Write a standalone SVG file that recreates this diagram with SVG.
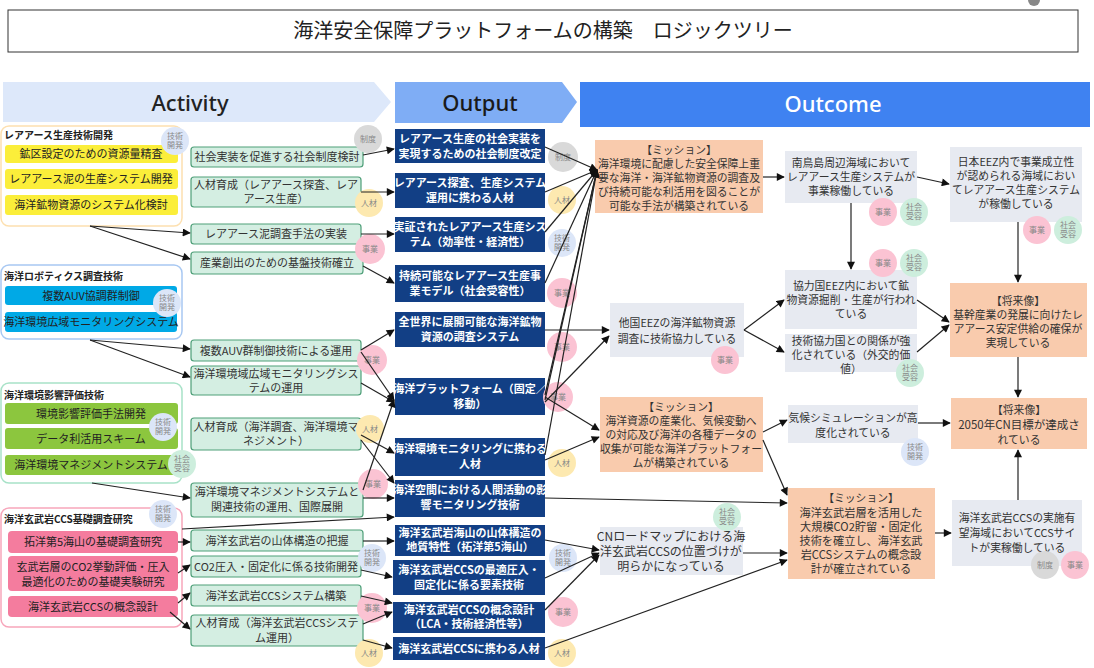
<svg xmlns="http://www.w3.org/2000/svg" width="1094" height="668" viewBox="0 0 1094 668">
<defs>
<style>
text{font-family:"Noto Sans CJK JP","Noto Sans",sans-serif;text-anchor:middle;}
.gt{font-size:10px;font-weight:bold;text-anchor:start;fill:#222;}
.it{font-size:11px;fill:#222;}
.act rect{fill:#d4eee2;stroke:#4e9f78;stroke-width:1.2;}
.act text{font-size:11px;fill:#333;}
.out rect{fill:#123f85;}
.out text{font-size:11px;fill:#fff;font-weight:bold;}
.ms rect{fill:#f9cbad;}
.oc rect{fill:#e7eaf1;}
.ms text,.oc text{font-size:10.8px;fill:#333;}
.bd text{font-size:8px;fill:#888;}
.sei{fill:#d9d9d9;}
.jin{fill:#fde9b0;}
.jig{fill:#fbc3d3;}
.gij{fill:#dce6f8;}
.sha{fill:#cdeedd;}
#conn line{stroke:#222;stroke-width:1.2;marker-end:url(#ah);}
</style>
<marker id="ah" viewBox="0 0 10 10" refX="9" refY="5" markerWidth="9" markerHeight="8" orient="auto" markerUnits="userSpaceOnUse"><path d="M0,0 L10,5 L0,10 z" fill="#111"/></marker>
</defs>
<rect width="1094" height="668" fill="#fff"/>
<circle cx="1034" cy="0" r="6" fill="#888"/>
<g id="title">
<rect x="8" y="10" width="1070" height="42" fill="#fff" stroke="#333" stroke-width="1"/>
<text x="543" y="38" style="font-size:20px;fill:#222;">海洋安全保障プラットフォームの構築　ロジックツリー</text>
</g>
<g id="banners">
<polygon points="3,82 374,82 391,102 374,122 3,122" fill="#dde8fa"/>
<text x="190" y="111" style="font-family:'Noto Sans',sans-serif;font-size:22px;font-weight:500;fill:#222;">Activity</text>
<polygon points="395,82 562,82 577,102 562,123 395,123" fill="#7fadf5"/>
<text x="480" y="111" style="font-family:'Noto Sans',sans-serif;font-size:22px;font-weight:500;fill:#1a1a1a;">Output</text>
<rect x="580" y="82" width="510" height="45" fill="#3f82f1"/>
<text x="833" y="112" style="font-family:'Noto Sans',sans-serif;font-size:22px;font-weight:500;fill:#fff;">Outcome</text>
</g>

<g id="group-rare">
<rect x="1" y="126" width="181" height="100" rx="8" fill="#fff" stroke="#fde0b0" stroke-width="1.5"/>
<text class="gt" x="4" y="139">レアアース生産技術開発</text>
<rect x="5" y="145" width="173" height="18" rx="3" fill="#fbee3a"/>
<text class="it" x="91" y="158">鉱区設定のための資源量精査</text>
<rect x="5" y="169" width="173" height="20" rx="3" fill="#fbee3a"/>
<text class="it" x="91" y="183">レアアース泥の生産システム開発</text>
<rect x="5" y="195" width="173" height="20" rx="3" fill="#fbee3a"/>
<text class="it" x="91" y="209">海洋鉱物資源のシステム化検討</text>
</g>
<g id="group-robotics">
<rect x="1" y="265" width="181" height="74" rx="8" fill="#fff" stroke="#a8c8f2" stroke-width="1.5"/>
<text class="gt" x="4" y="280">海洋ロボティクス調査技術</text>
<rect x="5" y="286" width="172" height="19" rx="3" fill="#00a9e6"/>
<text class="it" x="91" y="300">複数AUV協調群制御</text>
<rect x="5" y="312" width="172" height="20" rx="3" fill="#00a9e6"/>
<text class="it" x="91" y="326">海洋環境広域モニタリングシステム</text>
</g>
<g id="group-env">
<rect x="1" y="383" width="181" height="100" rx="8" fill="#fff" stroke="#a8e2c8" stroke-width="1.5"/>
<text class="gt" x="4" y="399">海洋環境影響評価技術</text>
<rect x="5" y="403" width="173" height="21" rx="3" fill="#8cc63e"/>
<text class="it" x="91" y="418">環境影響評価手法開発</text>
<rect x="5" y="428" width="173" height="21" rx="3" fill="#8cc63e"/>
<text class="it" x="91" y="443">データ利活用スキーム</text>
<rect x="5" y="455" width="173" height="20" rx="3" fill="#8cc63e"/>
<text class="it" x="91" y="469">海洋環境マネジメントシステム</text>
</g>
<g id="group-ccs">
<rect x="1" y="508" width="181" height="119" rx="8" fill="#fff" stroke="#f7a6bb" stroke-width="1.5"/>
<text class="gt" x="4" y="523">海洋玄武岩CCS基礎調査研究</text>
<rect x="8" y="531" width="170" height="22" rx="4" fill="#f47c9e"/>
<text class="it" x="93" y="546">拓洋第5海山の基礎調査研究</text>
<rect x="8" y="556" width="170" height="35" rx="4" fill="#f47c9e"/>
<text class="it" x="93" y="571">玄武岩層のCO2挙動評価・圧入</text>
<text class="it" x="93" y="586">最適化のための基礎実験研究</text>
<rect x="8" y="596" width="170" height="21" rx="4" fill="#f47c9e"/>
<text class="it" x="93" y="611">海洋玄武岩CCSの概念設計</text>
</g>

<g id="A1" class="act"><rect x="191" y="147" width="172" height="20" rx="3"/><text x="277" y="161">社会実装を促進する社会制度検討</text></g>
<g id="A2" class="act"><rect x="191" y="177" width="170" height="30" rx="3"/><text x="276" y="189">人材育成（レアアース探査、レア</text><text x="276" y="203">アース生産）</text></g>
<g id="A3" class="act"><rect x="191" y="224" width="170" height="20" rx="3"/><text x="276" y="238">レアアース泥調査手法の実装</text></g>
<g id="A4" class="act"><rect x="191" y="252" width="172" height="22" rx="3"/><text x="277" y="267">産業創出のための基盤技術確立</text></g>
<g id="A5" class="act"><rect x="191" y="340" width="170" height="21" rx="3"/><text x="276" y="355">複数AUV群制御技術による運用</text></g>
<g id="A6" class="act"><rect x="191" y="366" width="170" height="29" rx="3"/><text x="276" y="378">海洋環境域広域モニタリングシス</text><text x="276" y="392">テムの運用</text></g>
<g id="A7" class="act"><rect x="191" y="418" width="170" height="32" rx="3"/><text x="276" y="431">人材育成（海洋調査、海洋環境マ</text><text x="276" y="445">ネジメント）</text></g>
<g id="A8" class="act"><rect x="191" y="483" width="172" height="34" rx="3"/><text x="277" y="496">海洋環境マネジメントシステムと</text><text x="277" y="511">関連技術の運用、国際展開</text></g>
<g id="A9" class="act"><rect x="191" y="530" width="172" height="21" rx="3"/><text x="277" y="545">海洋玄武岩の山体構造の把握</text></g>
<g id="A10" class="act"><rect x="191" y="556" width="170" height="21" rx="3"/><text x="276" y="571">CO2圧入・固定化に係る技術開発</text></g>
<g id="A11" class="act"><rect x="191" y="585" width="170" height="21" rx="3"/><text x="276" y="600">海洋玄武岩CCSシステム構築</text></g>
<g id="A12" class="act"><rect x="191" y="615" width="172" height="31" rx="3"/><text x="277" y="627">人材育成（海洋玄武岩CCSシステ</text><text x="277" y="642">ム運用）</text></g>

<g id="O1" class="out"><rect x="395" y="129" width="150" height="34"/><text x="470" y="143">レアアース生産の社会実装を</text><text x="470" y="158">実現するための社会制度改定</text></g>
<g id="O2" class="out"><rect x="395" y="173" width="150" height="35"/><text x="470" y="187">レアアース探査、生産システム</text><text x="470" y="202">運用に携わる人材</text></g>
<g id="O3" class="out"><rect x="395" y="217" width="150" height="35"/><text x="470" y="231">実証されたレアアース生産シス</text><text x="470" y="246">テム（効率性・経済性）</text></g>
<g id="O4" class="out"><rect x="395" y="265" width="150" height="37"/><text x="470" y="280">持続可能なレアアース生産事</text><text x="470" y="295">業モデル（社会受容性）</text></g>
<g id="O5" class="out"><rect x="395" y="312" width="150" height="35"/><text x="470" y="326">全世界に展開可能な海洋鉱物</text><text x="470" y="341">資源の調査システム</text></g>
<g id="O6" class="out"><rect x="395" y="378" width="150" height="37"/><text x="470" y="393">海洋プラットフォーム（固定／</text><text x="470" y="408">移動）</text></g>
<g id="O7" class="out"><rect x="395" y="438" width="150" height="38"/><text x="470" y="453">海洋環境モニタリングに携わる</text><text x="470" y="468">人材</text></g>
<g id="O8" class="out"><rect x="395" y="480" width="150" height="37"/><text x="470" y="494">海洋空間における人間活動の影</text><text x="470" y="509">響モニタリング技術</text></g>
<g id="O9" class="out"><rect x="395" y="525" width="150" height="31"/><text x="470" y="537">海洋玄武岩海山の山体構造の</text><text x="470" y="551">地質特性（拓洋第5海山）</text></g>
<g id="O10" class="out"><rect x="393" y="560" width="152" height="35"/><text x="469" y="574">海洋玄武岩CCSの最適圧入・</text><text x="469" y="589">固定化に係る要素技術</text></g>
<g id="O11" class="out"><rect x="393" y="602" width="152" height="31"/><text x="469" y="614">海洋玄武岩CCSの概念設計</text><text x="469" y="628">（LCA・技術経済性等）</text></g>
<g id="O12" class="out"><rect x="393" y="637" width="152" height="23"/><text x="469" y="653">海洋玄武岩CCSに携わる人材</text></g>

<g id="M1" class="ms"><rect x="595" y="140" width="168" height="73"/><text x="679" y="154">【ミッション】</text><text x="679" y="168">海洋環境に配慮した安全保障上重</text><text x="679" y="182">要な海洋・海洋鉱物資源の調査及</text><text x="679" y="196">び持続可能な利活用を図ることが</text><text x="679" y="210">可能な手法が構築されている</text></g>
<g id="C1" class="oc"><rect x="610" y="303" width="134" height="54"/><text x="677" y="327">他国EEZの海洋鉱物資源</text><text x="677" y="343">調査に技術協力している</text></g>
<g id="M2" class="ms"><rect x="600" y="397" width="163" height="75"/><text x="681" y="411">【ミッション】</text><text x="681" y="425">海洋資源の産業化、気候変動へ</text><text x="681" y="439">の対応及び海洋の各種データの</text><text x="681" y="453">収集が可能な海洋プラットフォー</text><text x="681" y="467">ムが構築されている</text></g>
<g id="C2" class="oc"><rect x="600" y="527" width="143" height="48"/><text x="671" y="541" style="font-size:12px">CNロードマップにおける海</text><text x="671" y="556" style="font-size:12px">洋玄武岩CCSの位置づけが</text><text x="671" y="571" style="font-size:12px">明らかになっている</text></g>
<g id="D1" class="oc"><rect x="785" y="151" width="132" height="52"/><text x="851" y="167">南鳥島周辺海域において</text><text x="851" y="181">レアアース生産システムが</text><text x="851" y="195">事業稼働している</text></g>
<g id="E1" class="oc"><rect x="950" y="147" width="132" height="75"/><text x="1016" y="166">日本EEZ内で事業成立性</text><text x="1016" y="180">が認められる海域におい</text><text x="1016" y="194">てレアアース生産システム</text><text x="1016" y="208">が稼働している</text></g>
<g id="D2" class="oc"><rect x="785" y="270" width="132" height="59"/><text x="851" y="290">協力国EEZ内において鉱</text><text x="851" y="304">物資源掘削・生産が行われ</text><text x="851" y="318">ている</text></g>
<g id="D3" class="oc"><rect x="785" y="334" width="132" height="38"/><text x="851" y="345">技術協力国との関係が強</text><text x="851" y="359">化されている（外交的価</text><text x="851" y="373">値）</text></g>
<g id="F1" class="ms"><rect x="950" y="283" width="137" height="74"/><text x="1018" y="305">【将来像】</text><text x="1018" y="319">基幹産業の発展に向けたレ</text><text x="1018" y="333">アアース安定供給の確保が</text><text x="1018" y="347">実現している</text></g>
<g id="D4" class="oc"><rect x="788" y="405" width="130" height="38"/><text x="853" y="422">気候シミュレーションが高</text><text x="853" y="437">度化されている</text></g>
<g id="F2" class="ms"><rect x="951" y="398" width="136" height="51"/><text x="1019" y="414">【将来像】</text><text x="1019" y="429" style="font-size:11.5px">2050年CN目標が達成さ</text><text x="1019" y="444">れている</text></g>
<g id="M3" class="ms"><rect x="788" y="488" width="147" height="91"/><text x="861" y="502">【ミッション】</text><text x="861" y="517" style="font-size:11.2px">海洋玄武岩層を活用した</text><text x="861" y="531" style="font-size:11.2px">大規模CO2貯留・固定化</text><text x="861" y="545" style="font-size:11.2px">技術を確立し、海洋玄武</text><text x="861" y="559" style="font-size:11.2px">岩CCSシステムの概念設</text><text x="861" y="573" style="font-size:11.2px">計が確立されている</text></g>
<g id="E2" class="oc"><rect x="952" y="500" width="130" height="66"/><text x="1017" y="522">海洋玄武岩CCSの実施有</text><text x="1017" y="537">望海域においてCCSサイ</text><text x="1017" y="552">トが実稼働している</text></g>

<g id="badges" class="bd">
<circle class="gij" cx="175" cy="141" r="14"/><text x="175" y="139">技術</text><text x="175" y="148">開発</text>
<circle class="gij" cx="167" cy="303" r="14"/><text x="167" y="301">技術</text><text x="167" y="310">開発</text>
<circle class="gij" cx="163" cy="427" r="14"/><text x="163" y="425">技術</text><text x="163" y="434">開発</text>
<circle class="sha" cx="182" cy="464" r="14"/><text x="182" y="462">社会</text><text x="182" y="471">受容</text>
<circle class="gij" cx="163" cy="514" r="14"/><text x="163" y="512">技術</text><text x="163" y="521">開発</text>
<circle class="sei" cx="368" cy="139" r="14"/><text x="368" y="142">制度</text>
<circle class="jin" cx="369" cy="203" r="14"/><text x="369" y="206">人材</text>
<circle class="jig" cx="370" cy="249" r="15"/><text x="370" y="252">事業</text>
<circle class="jig" cx="372" cy="360" r="15"/><text x="372" y="363">事業</text>
<circle class="jin" cx="370" cy="429" r="14"/><text x="370" y="432">人材</text>
<circle class="jig" cx="373" cy="484" r="15"/><text x="373" y="487">事業</text>
<circle class="gij" cx="372" cy="558" r="14"/><text x="372" y="556">技術</text><text x="372" y="565">開発</text>
<circle class="jig" cx="372" cy="608" r="15"/><text x="372" y="611">事業</text>
<circle class="jin" cx="369" cy="653" r="14"/><text x="369" y="656">人材</text>
<circle class="sei" cx="563" cy="157" r="15"/><text x="563" y="160">制度</text>
<circle class="jin" cx="562" cy="200" r="14"/><text x="562" y="203">人材</text>
<circle class="gij" cx="562" cy="243" r="14"/><text x="562" y="241">技術</text><text x="562" y="250">開発</text>
<circle class="jig" cx="562" cy="293" r="15"/><text x="562" y="296">事業</text>
<circle class="jig" cx="562" cy="347" r="15"/><text x="562" y="350">事業</text>
<circle class="jig" cx="558" cy="397" r="15"/><text x="558" y="400">事業</text>
<circle class="jin" cx="562" cy="463" r="14"/><text x="562" y="466">人材</text>
<circle class="gij" cx="563" cy="558" r="14"/><text x="563" y="556">技術</text><text x="563" y="565">開発</text>
<circle class="jig" cx="563" cy="612" r="15"/><text x="563" y="615">事業</text>
<circle class="jin" cx="562" cy="653" r="14"/><text x="562" y="656">人材</text>
<circle class="jig" cx="725" cy="360" r="14"/><text x="725" y="363">事業</text>
<circle class="sha" cx="727" cy="517" r="14"/><text x="727" y="515">社会</text><text x="727" y="524">受容</text>
<circle class="jig" cx="883" cy="212" r="14"/><text x="883" y="215">事業</text>
<circle class="sha" cx="914" cy="212" r="14"/><text x="914" y="210">社会</text><text x="914" y="219">受容</text>
<circle class="jig" cx="1037" cy="230" r="14"/><text x="1037" y="233">事業</text>
<circle class="sha" cx="1068" cy="230" r="14"/><text x="1068" y="228">社会</text><text x="1068" y="237">受容</text>
<circle class="jig" cx="883" cy="263" r="14"/><text x="883" y="266">事業</text>
<circle class="sha" cx="914" cy="263" r="14"/><text x="914" y="261">社会</text><text x="914" y="270">受容</text>
<circle class="sha" cx="910" cy="373" r="14"/><text x="910" y="371">社会</text><text x="910" y="380">受容</text>
<circle class="gij" cx="915" cy="452" r="14"/><text x="915" y="450">技術</text><text x="915" y="459">開発</text>
<circle class="sei" cx="1045" cy="565" r="14"/><text x="1045" y="568">制度</text>
<circle class="jig" cx="1075" cy="565" r="14"/><text x="1075" y="568">事業</text>
</g>

<g id="conn">
<line x1="90" y1="226" x2="190" y2="233"/>
<line x1="90" y1="226" x2="190" y2="259"/>
<line x1="90" y1="340" x2="190" y2="349"/>
<line x1="90" y1="340" x2="190" y2="377"/>
<line x1="92" y1="483" x2="190" y2="498"/>
<line x1="178" y1="542" x2="190" y2="542"/>
<line x1="178" y1="573" x2="190" y2="565"/>
<line x1="178" y1="603" x2="190" y2="593"/>
<line x1="170" y1="612" x2="190" y2="629"/>
<line x1="182" y1="529" x2="394" y2="517"/>
<line x1="363" y1="155" x2="394" y2="149"/>
<line x1="361" y1="192" x2="394" y2="192"/>
<line x1="361" y1="234" x2="394" y2="234"/>
<line x1="363" y1="266" x2="394" y2="283"/>
<line x1="361" y1="350" x2="394" y2="330"/>
<line x1="361" y1="352" x2="394" y2="400"/>
<line x1="361" y1="383" x2="394" y2="402"/>
<line x1="361" y1="435" x2="394" y2="453"/>
<line x1="361" y1="440" x2="394" y2="483"/>
<line x1="363" y1="490" x2="394" y2="400"/>
<line x1="363" y1="498" x2="394" y2="498"/>
<line x1="363" y1="541" x2="394" y2="541"/>
<line x1="361" y1="570" x2="392" y2="577"/>
<line x1="361" y1="596" x2="392" y2="603"/>
<line x1="363" y1="624" x2="392" y2="612"/>
<line x1="363" y1="640" x2="392" y2="648"/>
<line x1="545" y1="147" x2="597" y2="170"/>
<line x1="545" y1="192" x2="597" y2="170"/>
<line x1="545" y1="232" x2="597" y2="170"/>
<line x1="545" y1="283" x2="597" y2="170"/>
<line x1="545" y1="395" x2="597" y2="170"/>
<line x1="545" y1="400" x2="597" y2="170"/>
<line x1="545" y1="455" x2="597" y2="170"/>
<line x1="545" y1="330" x2="609" y2="330"/>
<line x1="545" y1="402" x2="609" y2="336"/>
<line x1="545" y1="397" x2="599" y2="430"/>
<line x1="545" y1="460" x2="599" y2="437"/>
<line x1="545" y1="498" x2="787" y2="503"/>
<line x1="545" y1="540" x2="599" y2="550"/>
<line x1="545" y1="578" x2="599" y2="553"/>
<line x1="545" y1="610" x2="599" y2="555"/>
<line x1="545" y1="648" x2="787" y2="560"/>
<line x1="763" y1="177" x2="784" y2="177"/>
<line x1="917" y1="177" x2="949" y2="184"/>
<line x1="851" y1="203" x2="851" y2="269"/>
<line x1="1018" y1="222" x2="1018" y2="282"/>
<line x1="744" y1="330" x2="784" y2="300"/>
<line x1="744" y1="330" x2="784" y2="352"/>
<line x1="917" y1="300" x2="949" y2="322"/>
<line x1="917" y1="352" x2="949" y2="325"/>
<line x1="1018" y1="357" x2="1018" y2="397"/>
<line x1="763" y1="432" x2="787" y2="420"/>
<line x1="763" y1="440" x2="787" y2="495"/>
<line x1="918" y1="423" x2="950" y2="423"/>
<line x1="743" y1="553" x2="787" y2="553"/>
<line x1="1018" y1="500" x2="1018" y2="450"/>
<line x1="935" y1="533" x2="951" y2="533"/>
</g>
</svg>
